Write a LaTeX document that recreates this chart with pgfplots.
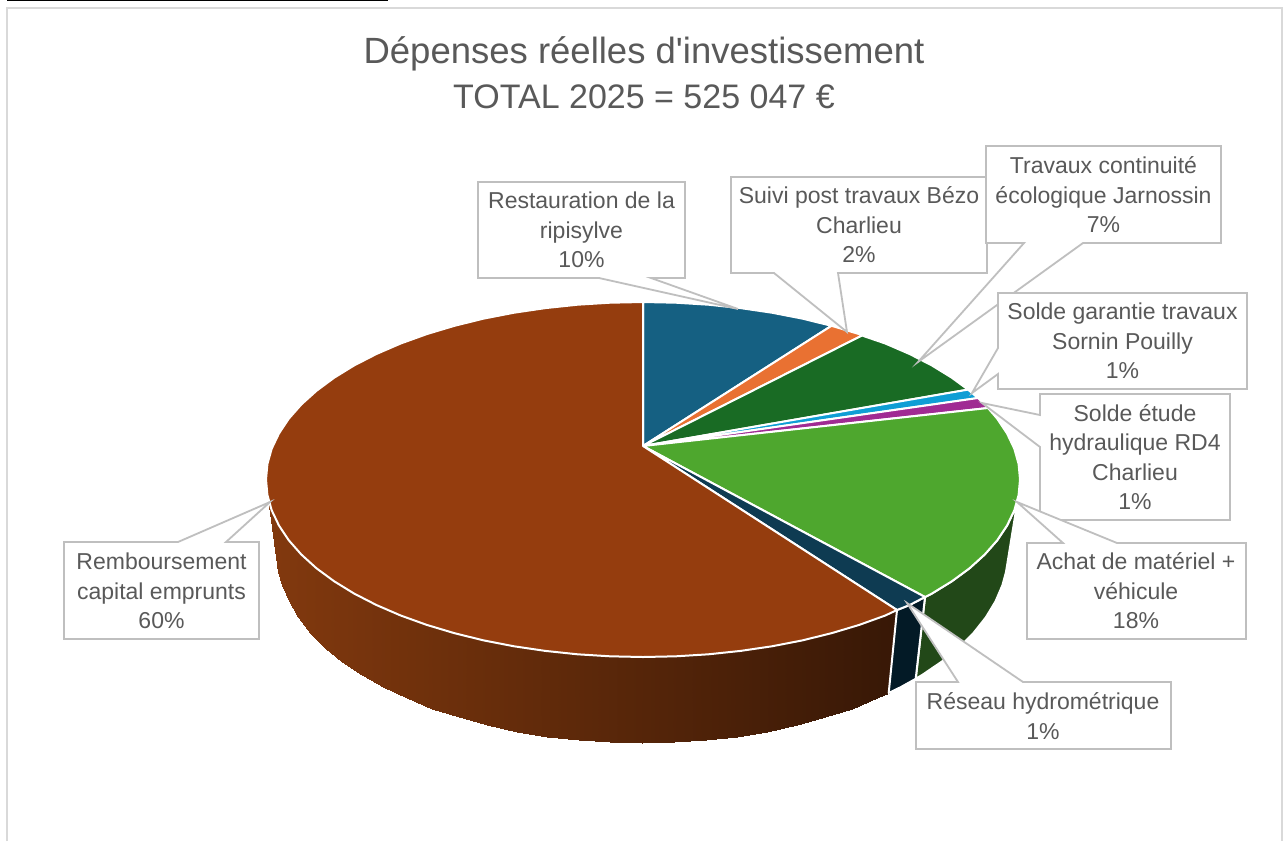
\documentclass[border=0pt]{standalone}
\usepackage{fontspec}
\usepackage{pgfplots}
\usepackage{pgfplotstable}
\pgfplotsset{compat=1.18}
\newfontfamily\chartfont{Liberation Sans}

\definecolor{txt}{HTML}{595959}
\definecolor{box}{HTML}{BFBFBF}
\definecolor{frm}{HTML}{D9D9D9}
\definecolor{c1}{HTML}{156082}
\definecolor{c2}{HTML}{E97132}
\definecolor{c3}{HTML}{196B24}
\definecolor{c4}{HTML}{0F9ED5}
\definecolor{c5}{HTML}{A02B93}
\definecolor{c6}{HTML}{4EA72E}
\definecolor{c7}{HTML}{0E3B52}
\definecolor{c8}{HTML}{953D0E}
\definecolor{s6}{HTML}{224818}
\definecolor{s7}{HTML}{031A26}

% outer wall of the big slice, upper edge then lower edge
\pgfplotstableread{
x y
268.0 498.0
271.7 510.3
278.9 525.4
288.7 540.2
301.3 554.5
316.5 568.3
334.2 581.3
354.2 593.6
376.4 605.0
400.7 615.5
426.8 624.9
454.5 633.2
483.7 640.4
514.1 646.3
545.4 650.9
577.6 654.3
610.1 656.3
643.0 657.0
675.9 656.3
708.4 654.3
740.6 650.9
771.9 646.3
802.3 640.4
831.5 633.2
859.2 624.9
885.3 615.5
897.0 610.0
278.0 572.0
281.6 585.2
288.5 601.4
298.1 617.3
310.3 632.7
325.0 647.5
342.2 661.6
361.6 674.8
383.2 687.1
406.7 698.3
432.1 708.5
459.0 717.4
487.3 725.1
516.8 731.5
547.3 736.5
578.5 740.1
610.1 742.3
642.0 743.0
673.9 742.3
705.5 740.1
736.7 736.5
767.2 731.5
796.7 725.1
825.0 717.4
851.9 708.5
877.3 698.3
888.7 693.0
}\wallbig

\pgfplotsset{
  slice/.style={draw=white,line width=2pt,line join=round,fill=#1},
  lab/.style={draw=box,line width=1.8pt,fill=white,line join=miter},
}
\tikzset{
  tag/.style={text=txt,align=center,inner sep=0pt,font=\fontsize{23}{29.5}\selectfont},
  ttl/.style={text=txt,align=center,inner sep=0pt,font=\fontsize{36.5}{45}\selectfont},
}

\begin{document}
\chartfont
\begin{tikzpicture}
\begin{axis}[
    scale only axis,
    width=1287pt, height=841pt,
    xmin=0, xmax=1287, ymin=0, ymax=841,
    y dir=reverse,
    hide axis,
    colormap={wall}{rgb255=(130,57,14) rgb255=(56,24,6)},
    point meta min=268, point meta max=890,
]
% page and chart frame
\addplot[draw=none,fill=white] coordinates {(0,0)(1287,0)(1287,841)(0,841)} --cycle;
\addplot[draw=frm,line width=1.5pt] coordinates {(7,841)(7,8)(1282,8)(1282,841)};
\addplot[draw=black,line width=1.5pt] coordinates {(7,0.5)(388,0.5)};

% walls
\addplot[surf,shader=interp,mesh/rows=2,point meta=x] table {\wallbig};
\addplot[slice=s6] coordinates {
(1018,498)(1014.3,510.3)(1007.1,525.4)(997.3,540.2)(984.7,554.5)(969.5,568.3)(951.8,581.3)(931.8,593.6)(925,597)
(915.7,678.8)(922.4,674.8)(941.8,661.6)(959,647.5)(973.7,632.7)(985.9,617.3)(995.5,601.4)(1002.4,585.2)(1006,572)
} --cycle;
\addplot[slice=s7] coordinates {
(925,597)(909.6,605)(897,610)(888.7,693)(900.8,687.1)(915.7,678.8)
} --cycle;

% top faces, clockwise from the top of the pie
\addplot[slice=c1] coordinates {
(643,446)(643,302)(675.9,302.7)(708.4,304.7)(740.6,308.1)(771.9,312.7)(802.3,318.6)(831.5,325.8)
} --cycle;
\addplot[slice=c2] coordinates {
(643,446)(831.5,325.8)(859.2,334.1)(862,335.5)
} --cycle;
\addplot[slice=c3] coordinates {
(643,446)(862,335.5)(885.3,343.5)(909.6,354)(931.8,365.4)(951.8,377.7)(968,389.6)
} --cycle;
\addplot[slice=c4] coordinates {
(643,446)(968,389.6)(978,398)
} --cycle;
\addplot[slice=c5] coordinates {
(643,446)(978,398)(984.7,404.5)(988,408)
} --cycle;
\addplot[slice=c6] coordinates {
(643,446)(988,408)(997.3,418.8)(1007.1,433.6)(1014.3,448.7)(1018.6,464)(1020,479.5)(1018.6,495)(1014.3,510.3)(1007.1,525.4)(997.3,540.2)(984.7,554.5)(969.5,568.3)(951.8,581.3)(931.8,593.6)(925,597)
} --cycle;
\addplot[slice=c7] coordinates {
(643,446)(925,597)(909.6,605)(897,610)
} --cycle;
\addplot[slice=c8] coordinates {
(643,446)(897,610)(885.3,615.5)(859.2,624.9)(831.5,633.2)(802.3,640.4)(771.9,646.3)(740.6,650.9)(708.4,654.3)(675.9,656.3)(643,657)
(610.1,656.3)(577.6,654.3)(545.4,650.9)(514.1,646.3)(483.7,640.4)(454.5,633.2)(426.8,624.9)(400.7,615.5)(376.4,605)(354.2,593.6)(334.2,581.3)(316.5,568.3)(301.3,554.5)(288.7,540.2)(278.9,525.4)(271.7,510.3)(267.4,495)
(266,479.5)(267.4,464)(271.7,448.7)(278.9,433.6)(288.7,418.8)(301.3,404.5)(316.5,390.8)(334.2,377.7)(354.2,365.4)(376.4,354)(400.7,343.5)(426.8,334.1)(454.5,325.8)(483.7,318.6)(514.1,312.7)(545.4,308.1)(577.6,304.7)(610.1,302.7)(643,302)
} --cycle;

% callouts
\addplot[lab] coordinates {(478,182)(685,182)(685,278)(651,278)(738,309)(599,278)(478,278)} --cycle;
\addplot[lab] coordinates {(731,177)(987,177)(987,273)(838,273)(847,332)(774,273)(731,273)} --cycle;
\addplot[lab] coordinates {(986,146)(1221,146)(1221,243)(1083,243)(918,362)(1024,243)(986,243)} --cycle;
\addplot[lab] coordinates {(998,293)(1247,293)(1247,389)(998,389)(998,374)(972,393)(998,348)} --cycle;
\addplot[lab] coordinates {(1040,394)(1230,394)(1230,520)(1040,520)(1040,447)(982,403)(1040,415)} --cycle;
\addplot[lab] coordinates {(1027,543)(1063,543)(1017,502)(1117,543)(1246,543)(1246,639)(1027,639)} --cycle;
\addplot[lab] coordinates {(916,682)(958,682)(907,603)(1023,682)(1171,682)(1171,749)(916,749)} --cycle;
\addplot[lab] coordinates {(64,542)(178,542)(270,502)(226,542)(259,542)(259,639)(64,639)} --cycle;

\node[ttl] at (axis cs:644,73) {Dépenses réelles d'investissement\\\fontsize{34}{45}\selectfont TOTAL 2025 = 525 047 €};
\node[tag] at (axis cs:581.5,230) {Restauration de la\\ripisylve\\10\%};
\node[tag] at (axis cs:859,225) {Suivi post travaux Bézo\\Charlieu\\2\%};
\node[tag] at (axis cs:1103.5,195) {Travaux continuité\\écologique Jarnossin\\7\%};
\node[tag] at (axis cs:1122.5,341) {Solde garantie travaux\\Sornin Pouilly\\1\%};
\node[tag] at (axis cs:1135,457) {Solde étude\\hydraulique RD4\\Charlieu\\1\%};
\node[tag] at (axis cs:1136,591) {Achat de matériel +\\véhicule\\18\%};
\node[tag] at (axis cs:1043,716) {Réseau hydrométrique\\1\%};
\node[tag] at (axis cs:161.5,591) {Remboursement\\capital emprunts\\60\%};
\end{axis}
\end{tikzpicture}
\end{document}
